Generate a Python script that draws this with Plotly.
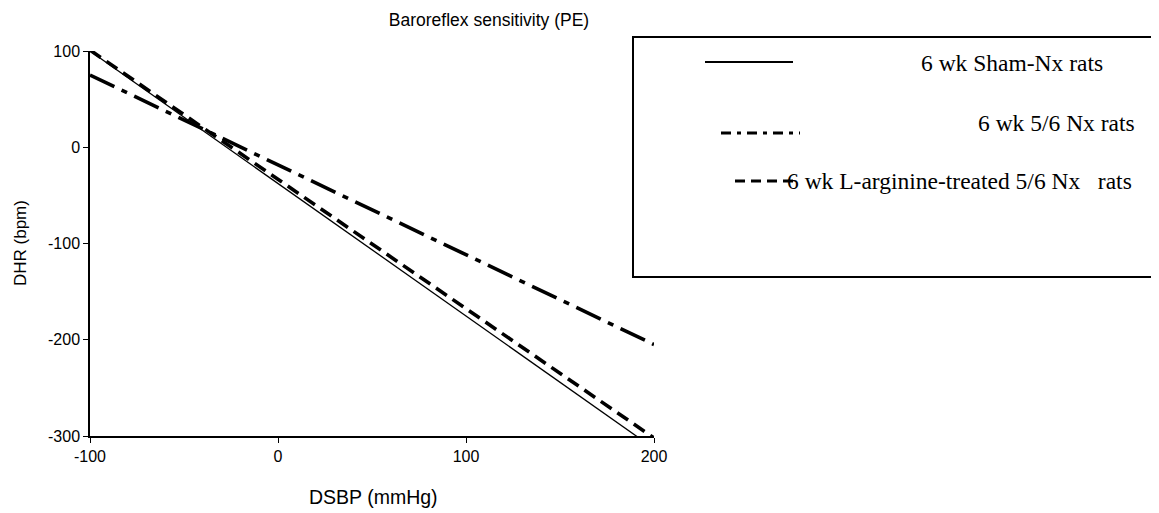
import plotly.graph_objects as go

# ---- data ----
dsbp = [-100, 200]
sham_nx = [100, -313]
nx56 = [75, -205]
larg_nx56 = [101, -302]
series_names = ["6 wk Sham-Nx rats", "6 wk 5/6 Nx rats",
                "6 wk L-arginine-treated 5/6 Nx\u00a0\u00a0\u00a0rats"]
x_ticks = [-100, 0, 100, 200]
x_ticktext = ["-100", "0", "100", "200"]
y_ticks = [100, 0, -100, -200, -300]
y_ticktext = ["100", "0", "-100", "-200", "-300"]

# page offset (browser body margin)
OFF = 8
W, H = 1159 - OFF, 513 - OFF
# plot area in reference-window px
RL, RR, RT, RB = 90, 654, 51, 436
L, R, T, B = RL - OFF, RR - OFF, RT - OFF, RB - OFF


def px(x, y):
    """reference window pixel -> paper coords"""
    x, y = x - OFF, y - OFF
    return (x - L) / (R - L), (B - y) / (B - T)


fig = go.Figure()
fig.add_trace(go.Scatter(x=dsbp, y=sham_nx, mode="lines", name=series_names[0],
                         line=dict(color="black", width=1.3)))
fig.add_trace(go.Scatter(x=dsbp, y=nx56, mode="lines", name=series_names[1],
                         line=dict(color="black", width=3.6, dash="27px,8px,6px,8px")))
fig.add_trace(go.Scatter(x=dsbp, y=larg_nx56, mode="lines", name=series_names[2],
                         line=dict(color="black", width=3.6, dash="13px,7px")))

axis_font = dict(family="Liberation Sans, Arial", size=16, color="black")
fig.update_xaxes(range=[-100, 200], tickvals=x_ticks, ticktext=x_ticktext,
                 showline=True, linecolor="black", linewidth=1.5, ticks="outside",
                 ticklen=5, tickcolor="black", showgrid=False, zeroline=False,
                 tickfont=axis_font)
fig.update_yaxes(range=[-300, 100], tickvals=y_ticks, ticktext=y_ticktext,
                 showline=True, linecolor="black", linewidth=1.5, ticks="outside",
                 ticklen=5, tickcolor="black", showgrid=False, zeroline=False,
                 tickfont=axis_font)

shapes = []
annotations = []
# legend box
x0, y0 = px(633, 277)
x1, y1 = px(1157, 37)
shapes.append(dict(type="rect", xref="paper", yref="paper", x0=x0, y0=y0, x1=x1, y1=y1,
                   line=dict(color="black", width=2), fillcolor="rgba(0,0,0,0)"))
legend_items = [
    # (sample x0, x1, y, width, dash, text x, text y)
    (705, 793, 62, 2, "solid", 919, 63),
    (721, 800, 133, 3, "10px,6px,4px,6px", 976, 123),
    (735, 797, 181, 3, "10px,6px", 785, 181),
]
for name, (sx0, sx1, sy, w, dash, tx, ty) in zip(series_names, legend_items):
    a0, b0 = px(sx0, sy)
    a1, _ = px(sx1, sy)
    shapes.append(dict(type="line", xref="paper", yref="paper", x0=a0, x1=a1, y0=b0, y1=b0,
                       line=dict(color="black", width=w, dash=dash)))
    ax, ay = px(tx, ty)
    annotations.append(dict(xref="paper", yref="paper", x=ax, y=ay, text=name,
                            showarrow=False, xanchor="left", yanchor="middle",
                            font=dict(family="Liberation Serif, Times New Roman", size=23.5,
                                      color="black")))

# axis titles
ax, ay = px(373, 497)
annotations.append(dict(xref="paper", yref="paper", x=ax, y=ay, text="DSBP (mmHg)",
                        showarrow=False, xanchor="center", yanchor="middle",
                        font=dict(family="Liberation Sans, Arial", size=19.5, color="black")))
ax, ay = px(20, 243)
annotations.append(dict(xref="paper", yref="paper", x=ax, y=ay, text="DHR (bpm)",
                        showarrow=False, xanchor="center", yanchor="middle", textangle=-90,
                        font=dict(family="Liberation Sans, Arial", size=17, color="black")))

fig.update_layout(
    width=W, height=H,
    margin=dict(l=L, r=W - R, t=T, b=H - B, autoexpand=False),
    paper_bgcolor="white", plot_bgcolor="white",
    showlegend=False,
    title=dict(text="Baroreflex sensitivity (PE)", xref="container", yref="container",
               x=(489 - OFF) / W, y=1 - (20 - OFF) / H, xanchor="center", yanchor="middle",
               font=dict(family="Liberation Sans, Arial", size=17.5, color="black")),
    shapes=shapes, annotations=annotations,
)

fig.write_html("out.html")
